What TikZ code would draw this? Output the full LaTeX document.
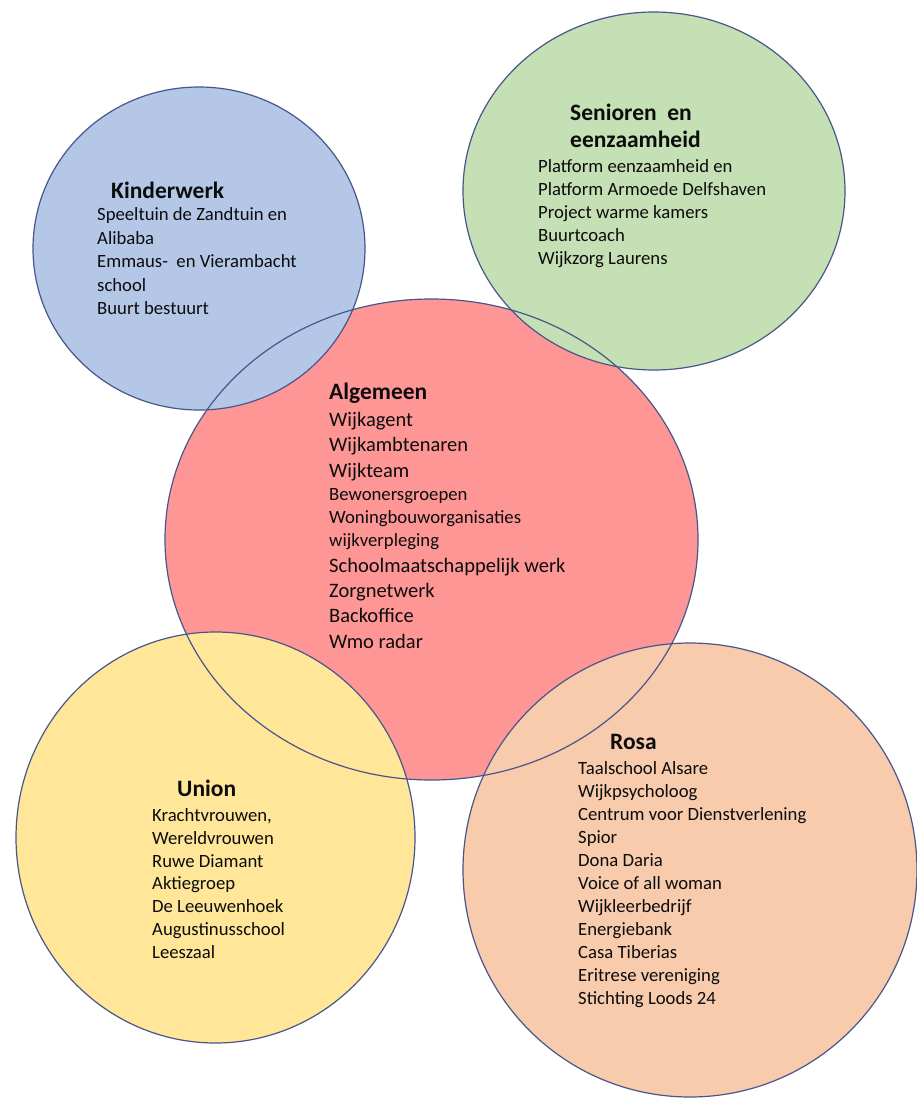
\documentclass[tikz,border=0pt]{standalone}
\usepackage{fontspec}
\setmainfont{Carlito}
\definecolor{fillBlue}{RGB}{180,199,231}
\definecolor{fillGreen}{RGB}{197,224,180}
\definecolor{fillRed}{RGB}{255,150,150}
\definecolor{fillYellow}{RGB}{255,230,153}
\definecolor{fillOrange}{RGB}{248,203,173}
\definecolor{ringcol}{RGB}{72,86,140}
\definecolor{txt}{RGB}{12,12,12}
\begin{document}
\begin{tikzpicture}[x=1pt,y=-1pt,
  ring/.style={draw=ringcol, line width=1.2pt},
  ttl/.style={anchor=base west, inner sep=0pt, font=\fontsize{23.5}{28}\selectfont\bfseries, text=txt},
  body/.style={anchor=base west, inner sep=0pt, font=\fontsize{18.7}{22}\selectfont, text=txt},
  bodyL/.style={anchor=base west, inner sep=0pt, font=\fontsize{20.5}{24}\selectfont, text=txt}]
\useasboundingbox (0,0) rectangle (917,1098);
\fill[white] (0,0) rectangle (917,1098);
% centres
\coordinate (cRed) at (431.5,539.5);
\coordinate (cBlue) at (199,248.5);
\coordinate (cGreen) at (654,191);
\coordinate (cYellow) at (215.5,837.5);
\coordinate (cOrange) at (690,870);
% fills
\fill[fillRed] (cRed) ellipse [x radius=266.5pt, y radius=240.5pt];
\fill[fillBlue] (cBlue) ellipse [x radius=166pt, y radius=161.5pt];
\fill[fillGreen] (cGreen) ellipse [x radius=191pt, y radius=179pt];
\fill[fillYellow] (cYellow) ellipse [x radius=199.5pt, y radius=205.5pt];
\fill[fillOrange] (cOrange) ellipse [x radius=227pt, y radius=227pt];
% outlines
\draw[ring] (cRed) ellipse [x radius=266.5pt, y radius=240.5pt];
\draw[ring] (cBlue) ellipse [x radius=166pt, y radius=161.5pt];
\draw[ring] (cGreen) ellipse [x radius=191pt, y radius=179pt];
\draw[ring] (cYellow) ellipse [x radius=199.5pt, y radius=205.5pt];
\draw[ring] (cOrange) ellipse [x radius=227pt, y radius=227pt];

% Kinderwerk
\node[ttl] (kT) at (111,198) {Kinderwerk};
\node[body] (k1) at (97,220.5) {Speeltuin de Zandtuin en};
\node[body] (k2) at (97,244) {Alibaba};
\node[body] (k3) at (97,267.5) {Emmaus-\ \ en Vierambacht};
\node[body] (k4) at (97,291) {school};
\node[body] (k5) at (97,314.5) {Buurt bestuurt};

% Senioren en eenzaamheid
\node[ttl] (sT1) at (570,120) {Senioren\ \ en};
\node[ttl] (sT2) at (570,147) {eenzaamheid};
\node[body] (s1) at (538,172.5) {Platform eenzaamheid en};
\node[body] (s2) at (538,195.5) {Platform Armoede Delfshaven};
\node[body] (s3) at (538,218.5) {Project warme kamers};
\node[body] (s4) at (538,241.5) {Buurtcoach};
\node[body] (s5) at (538,264.5) {Wijkzorg Laurens};

% Algemeen
\node[ttl] (aT) at (329,399) {Algemeen};
\node[bodyL] (a1) at (329,426) {Wijkagent};
\node[bodyL] (a2) at (329,451.5) {Wijkambtenaren};
\node[bodyL] (a3) at (329,477) {Wijkteam};
\node[body] (a4) at (329,500.5) {Bewonersgroepen};
\node[body] (a5) at (329,523.5) {Woningbouworganisaties};
\node[body] (a6) at (329,546.5) {wijkverpleging};
\node[bodyL] (a7) at (329,572) {Schoolmaatschappelijk werk};
\node[bodyL] (a8) at (329,597.5) {Zorgnetwerk};
\node[bodyL] (a9) at (329,622.5) {Backoffice};
\node[bodyL] (a10) at (329,648) {Wmo radar};

% Union
\node[ttl] (uT) at (177,796) {Union};
\node[body] (u1) at (152,821.5) {Krachtvrouwen,};
\node[body] (u2) at (152,844.3) {Wereldvrouwen};
\node[body] (u3) at (152,867.1) {Ruwe Diamant};
\node[body] (u4) at (152,889.9) {Aktiegroep};
\node[body] (u5) at (152,912.7) {De Leeuwenhoek};
\node[body] (u6) at (152,935.5) {Augustinusschool};
\node[body] (u7) at (152,958.3) {Leeszaal};

% Rosa
\node[ttl] (rT) at (610,749) {Rosa};
\node[body] (r1) at (578,774.5) {Taalschool Alsare};
\node[body] (r2) at (578,797.5) {Wijkpsycholoog};
\node[body] (r3) at (578,820.5) {Centrum voor Dienstverlening};
\node[body] (r4) at (578,843.5) {Spior};
\node[body] (r5) at (578,866.5) {Dona Daria};
\node[body] (r6) at (578,889.5) {Voice of all woman};
\node[body] (r7) at (578,912.5) {Wijkleerbedrijf};
\node[body] (r8) at (578,935.5) {Energiebank};
\node[body] (r9) at (578,958.5) {Casa Tiberias};
\node[body] (r10) at (578,981.5) {Eritrese vereniging};
\node[body] (r11) at (578,1004.5) {Stichting Loods 24};
\end{tikzpicture}
\end{document}
